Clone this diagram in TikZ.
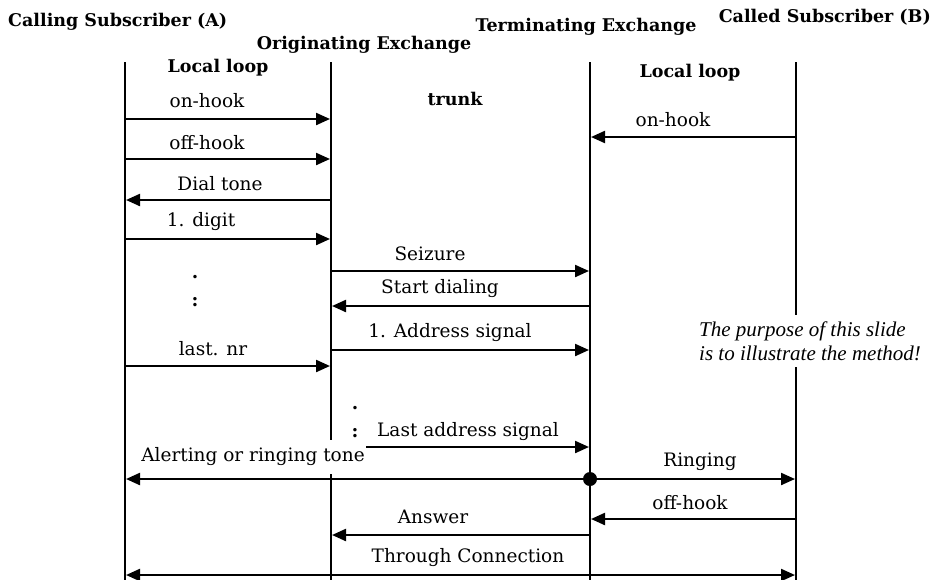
\documentclass[tikz,border=0pt]{standalone}
\usepackage{fontspec}
\setmainfont{DejaVu Serif}
\newfontfamily\notefont{Liberation Serif}
\usetikzlibrary{arrows.meta}
\begin{document}
\begin{tikzpicture}[x=1pt,y=-1pt,
  lifeline/.style={line width=2.3pt},
  tip/.tip={Triangle[length=14pt,width=12pt]},
  msg/.style={line width=2.2pt,-tip},
  duplex/.style={line width=2.2pt,tip-tip},
  lbl/.style={font=\fontsize{18.5}{22}\selectfont, inner sep=0pt},
  ellip/.style={font=\bfseries\fontsize{18.5}{22}\selectfont, inner sep=0pt},
  head/.style={font=\bfseries\fontsize{17.5}{21}\selectfont, inner sep=0pt},
  note/.style={font=\notefont\itshape\fontsize{21}{24}\selectfont, fill=white, align=left, inner xsep=2pt, inner ysep=6pt},
]
\useasboundingbox (0,0) rectangle (936,579);

% lifelines
\coordinate (Atop) at (125,62);  \coordinate (Abot) at (125,580);
\coordinate (Otop) at (331,62);  \coordinate (Obot) at (331,580);
\coordinate (Ttop) at (590,62);  \coordinate (Tbot) at (590,580);
\coordinate (Btop) at (796,62);  \coordinate (Bbot) at (796,580);
\draw[lifeline] (Atop) -- (Abot);
\draw[lifeline] (Otop) -- (Obot);
\draw[lifeline] (Ttop) -- (Tbot);
\draw[lifeline] (Btop) -- (Bbot);

% headings
\node[head, anchor=west] (hA) at (8,22) {Calling Subscriber (A)};
\node[head] (hO) at (364,45) {Originating Exchange};
\node[head] (hT) at (586,27) {Terminating Exchange};
\node[head, anchor=east] (hB) at (931,17) {Called Subscriber (B)};
\node[head] (loopA) at (218,68) {Local loop};
\node[head] (loopB) at (690,73) {Local loop};
\node[head] (trunk) at (455,99) {trunk};

% subscriber A <-> originating exchange
\coordinate (a1) at (126,119); \coordinate (o1) at (330,119);
\draw[msg] (a1) -- (o1);
\node[lbl] (l1) at (207,101) {on-hook};

\coordinate (a2) at (126,159); \coordinate (o2) at (330,159);
\draw[msg] (a2) -- (o2);
\node[lbl] (l2) at (207,143) {off-hook};

\coordinate (o3) at (330,200); \coordinate (a3) at (126,200);
\draw[msg] (o3) -- (a3);
\node[lbl] (l3) at (220,184) {Dial tone};

\coordinate (a4) at (126,239); \coordinate (o4) at (330,239);
\draw[msg] (a4) -- (o4);
\node[lbl] (l4) at (201,222) {1. digit};

\node[ellip] (d1) at (195,277) {.};
\node[ellip] (d2) at (195,302) {:};

\coordinate (a5) at (126,366); \coordinate (o5) at (330,366);
\draw[msg] (a5) -- (o5);
\node[lbl] (l5) at (213,349) {last. nr};

% subscriber B -> terminating exchange
\coordinate (b1) at (795,137); \coordinate (t1) at (591,137);
\draw[msg] (b1) -- (t1);
\node[lbl] (r1) at (673,120) {on-hook};

% trunk signalling
\coordinate (o6) at (332,271); \coordinate (t6) at (589,271);
\draw[msg] (o6) -- (t6);
\node[lbl] (k1) at (430,254) {Seizure};

\coordinate (t7) at (589,306); \coordinate (o7) at (332,306);
\draw[msg] (t7) -- (o7);
\node[lbl] (k2) at (440,289) {Start dialing};

\coordinate (o8) at (332,350); \coordinate (t8) at (589,350);
\draw[msg] (o8) -- (t8);
\node[lbl] (k3) at (450,333) {1. Address signal};

\node[ellip] (d3) at (355,408) {.};
\node[ellip] (d4) at (355,433) {:};

\coordinate (o9) at (353,447); \coordinate (t9) at (589,447);
\draw[msg] (o9) -- (t9);
\node[lbl] (k4) at (468,432) {Last address signal};

% ringing
\node[lbl, fill=white, inner xsep=1pt, inner ysep=8pt] (k5) at (253,457) {Alerting or ringing tone};
\coordinate (ring) at (590,479);
\coordinate (a10) at (126,479); \coordinate (b10) at (795,479);
\draw[msg] (ring) -- (a10);
\draw[msg] (ring) -- (b10);
\fill (ring) circle (7pt);
\node[lbl] (r2) at (700,462) {Ringing};

\coordinate (b11) at (795,519); \coordinate (t11) at (591,519);
\draw[msg] (b11) -- (t11);
\node[lbl] (r3) at (690,503) {off-hook};

\coordinate (t12) at (589,535); \coordinate (o12) at (332,535);
\draw[msg] (t12) -- (o12);
\node[lbl] (k6) at (433,517) {Answer};

\coordinate (a13) at (126,575); \coordinate (b13) at (795,575);
\draw[duplex] (a13) -- (b13);
\node[lbl] (k7) at (468,558) {Through Connection};

% remark
\node[note] (remark) at (810,341) {The purpose of this slide\\is to illustrate the method!};
\end{tikzpicture}
\end{document}
